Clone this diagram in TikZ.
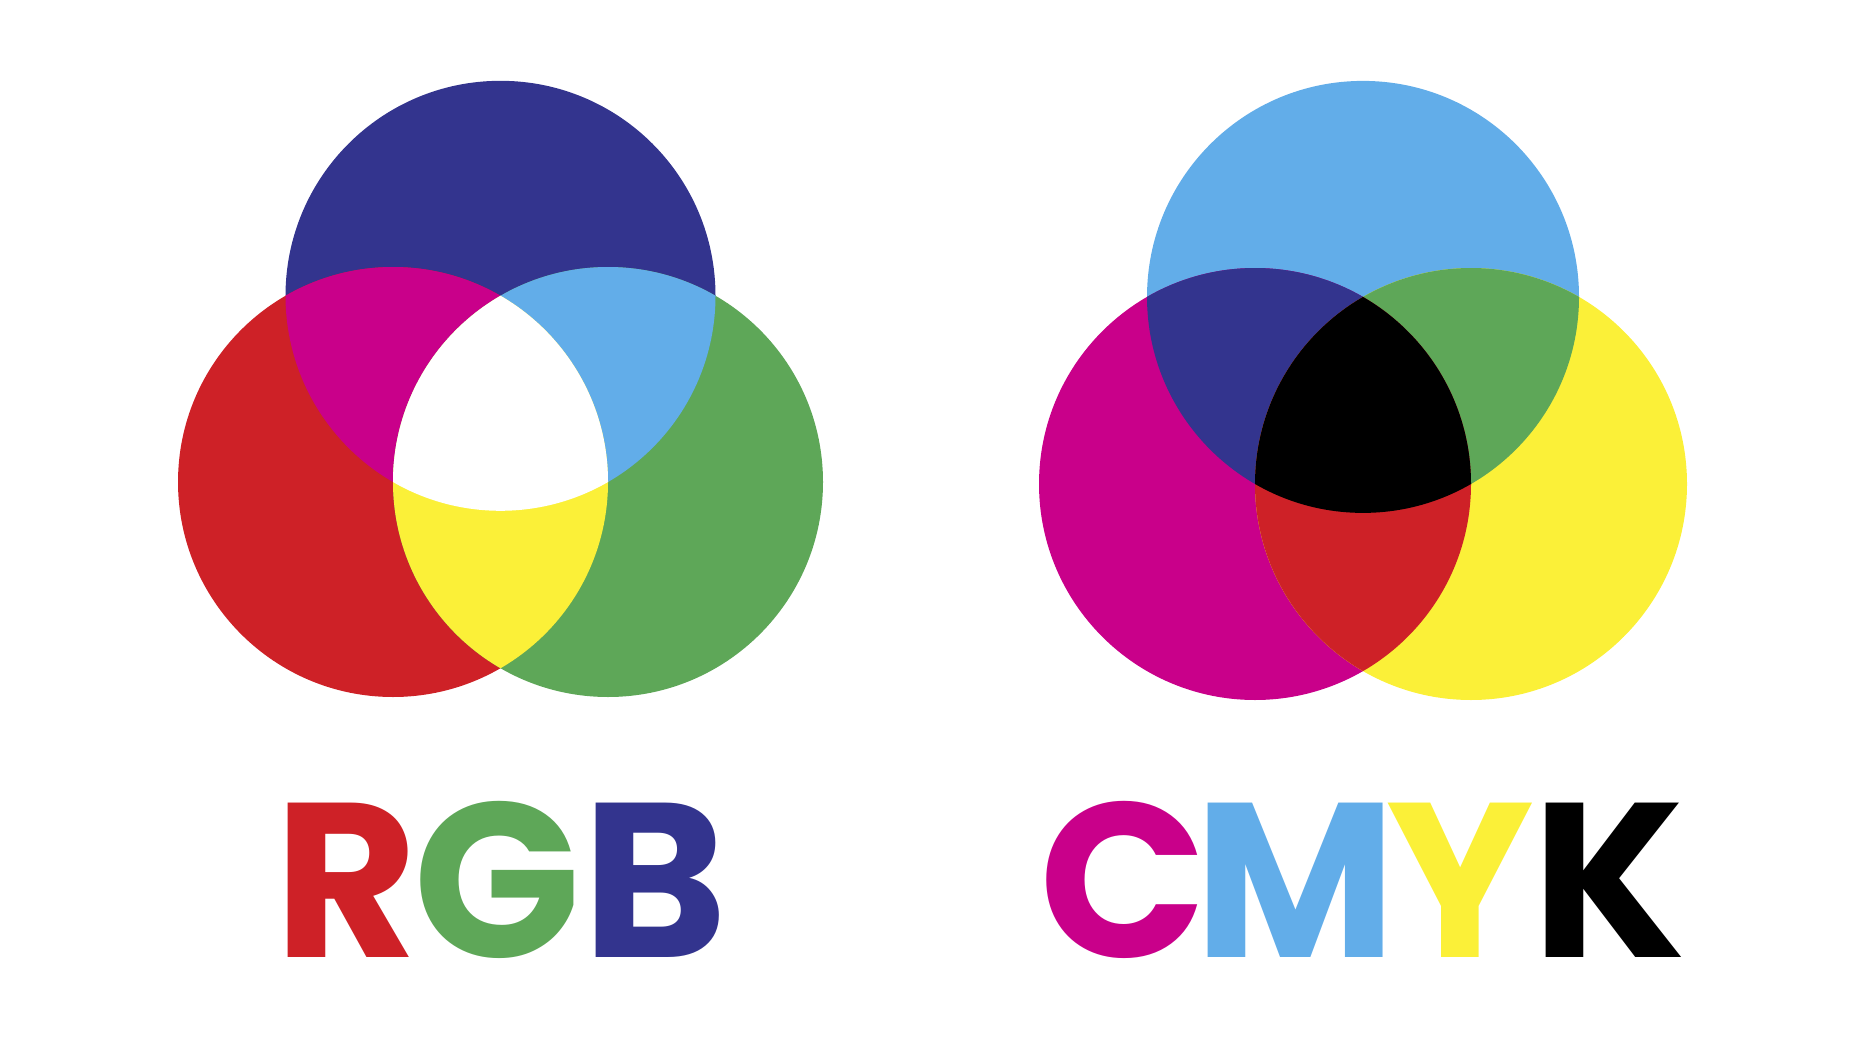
\documentclass[tikz,border=0pt]{standalone}
\usepackage{fontspec}
\newfontfamily\logofont{Poppins}
\definecolor{dblue}{RGB}{51,52,142}
\definecolor{lred}{RGB}{206,33,39}
\definecolor{lgreen}{RGB}{94,167,88}
\definecolor{lmag}{RGB}{201,0,138}
\definecolor{lcyan}{RGB}{98,173,233}
\definecolor{lyel}{RGB}{251,240,56}
\tikzset{
  letter/.style={anchor=base, inner sep=0pt, outer sep=0pt, font=\logofont\bfseries\fontsize{110}{120}\selectfont},
}
\begin{document}
\begin{tikzpicture}[x=0.5pt,y=-0.5pt]
\useasboundingbox (0,0) rectangle (1862,1038);
% RGB circles
\coordinate (rT) at (500.5,295.8);
\coordinate (rL) at (393,482);
\coordinate (rR) at (608,482);
\def\rr{107.5pt}
\fill[dblue] (rT) circle (\rr);
\fill[lred] (rL) circle (\rr);
\fill[lgreen] (rR) circle (\rr);
\begin{scope}\clip (rT) circle (\rr); \fill[lmag] (rL) circle (\rr);\end{scope}
\begin{scope}\clip (rT) circle (\rr); \fill[lcyan] (rR) circle (\rr);\end{scope}
\begin{scope}\clip (rL) circle (\rr); \fill[lyel] (rR) circle (\rr);\end{scope}
\begin{scope}\clip (rT) circle (\rr); \clip (rL) circle (\rr); \fill[white] (rR) circle (\rr);\end{scope}
% CMYK circles
\coordinate (cT) at (1363,296.9);
\coordinate (cL) at (1255,484);
\coordinate (cR) at (1471,484);
\def\cr{108pt}
\fill[lcyan] (cT) circle (\cr);
\fill[lmag] (cL) circle (\cr);
\fill[lyel] (cR) circle (\cr);
\begin{scope}\clip (cT) circle (\cr); \fill[dblue] (cL) circle (\cr);\end{scope}
\begin{scope}\clip (cT) circle (\cr); \fill[lgreen] (cR) circle (\cr);\end{scope}
\begin{scope}\clip (cL) circle (\cr); \fill[lred] (cR) circle (\cr);\end{scope}
\begin{scope}\clip (cT) circle (\cr); \clip (cL) circle (\cr); \fill[black] (cR) circle (\cr);\end{scope}
% labels
\node[letter, text=lred] (lR) at (346,957) {R};
\node[letter, text=lgreen] (lG) at (497,957) {G};
\node[letter, text=dblue] (lB) at (655,957) {B};
\node[letter, text=lmag] (lC) at (1123,957) {C};
\node[letter, text=lcyan] (lM) at (1295.5,957) {M};
\node[letter, text=lyel] (lY) at (1460,957) {Y};
\node[letter, text=black] (lK) at (1609,957) {K};
\end{tikzpicture}
\end{document}
